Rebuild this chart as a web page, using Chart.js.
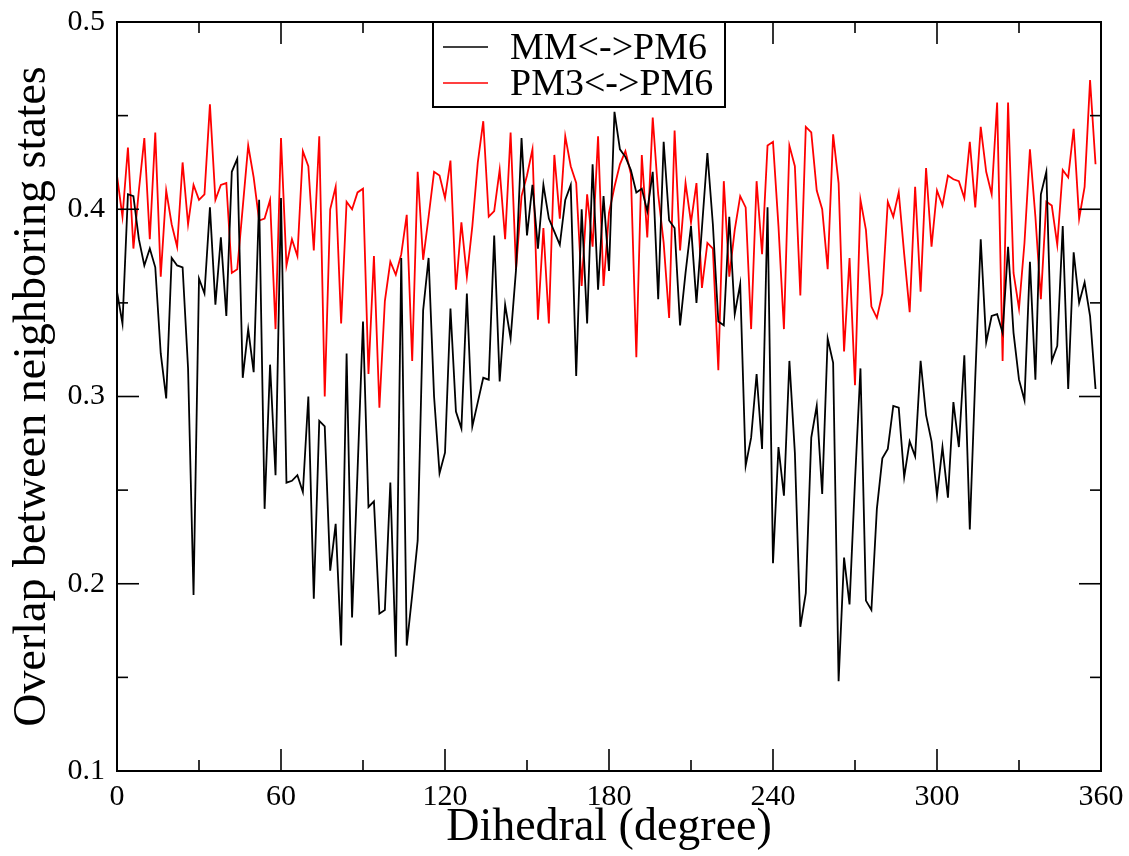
<!DOCTYPE html>
<html>
<head>
<meta charset="utf-8">
<title>Overlap between neighboring states</title>
<script src="https://cdn.jsdelivr.net/npm/chart.js@4.4.1/dist/chart.umd.min.js"></script>
<style>
  html, body { margin: 0; padding: 0; background: #fff; }
  canvas { display: block; }
</style>
</head>
<body>
<canvas id="overlapChart" width="1129" height="856"></canvas>
<script>
"use strict";

// dihedral angle (degree), one sample every 2 degrees
var dihedral = [
    0, 2, 4, 6, 8, 10, 12, 14, 16, 18, 20, 22, 24, 26, 28, 30, 32, 34, 36, 38,
    40, 42, 44, 46, 48, 50, 52, 54, 56, 58, 60, 62, 64, 66, 68, 70, 72, 74, 76, 78,
    80, 82, 84, 86, 88, 90, 92, 94, 96, 98, 100, 102, 104, 106, 108, 110, 112, 114, 116, 118,
    120, 122, 124, 126, 128, 130, 132, 134, 136, 138, 140, 142, 144, 146, 148, 150, 152, 154, 156, 158,
    160, 162, 164, 166, 168, 170, 172, 174, 176, 178, 180, 182, 184, 186, 188, 190, 192, 194, 196, 198,
    200, 202, 204, 206, 208, 210, 212, 214, 216, 218, 220, 222, 224, 226, 228, 230, 232, 234, 236, 238,
    240, 242, 244, 246, 248, 250, 252, 254, 256, 258, 260, 262, 264, 266, 268, 270, 272, 274, 276, 278,
    280, 282, 284, 286, 288, 290, 292, 294, 296, 298, 300, 302, 304, 306, 308, 310, 312, 314, 316, 318,
    320, 322, 324, 326, 328, 330, 332, 334, 336, 338, 340, 342, 344, 346, 348, 350, 352, 354, 356, 358
];

var mmPm6 = [
    0.356, 0.339, 0.408, 0.407, 0.384, 0.370, 0.379, 0.369, 0.323, 0.299,
    0.374, 0.370, 0.369, 0.315, 0.194, 0.363, 0.355, 0.401, 0.349, 0.385,
    0.343, 0.420, 0.427, 0.310, 0.336, 0.313, 0.405, 0.240, 0.317, 0.258,
    0.406, 0.254, 0.255, 0.258, 0.249, 0.300, 0.192, 0.287, 0.284, 0.207,
    0.232, 0.167, 0.323, 0.182, 0.260, 0.340, 0.241, 0.244, 0.184, 0.186,
    0.254, 0.161, 0.374, 0.167, 0.194, 0.223, 0.346, 0.374, 0.300, 0.259,
    0.270, 0.347, 0.292, 0.283, 0.355, 0.284, 0.297, 0.310, 0.309, 0.386,
    0.308, 0.349, 0.331, 0.368, 0.438, 0.386, 0.413, 0.379, 0.413, 0.395,
    0.388, 0.381, 0.405, 0.413, 0.311, 0.400, 0.339, 0.424, 0.357, 0.407,
    0.367, 0.452, 0.432, 0.428, 0.421, 0.409, 0.411, 0.399, 0.420, 0.352,
    0.436, 0.394, 0.390, 0.338, 0.366, 0.391, 0.350, 0.390, 0.430, 0.392,
    0.340, 0.338, 0.396, 0.344, 0.360, 0.263, 0.278, 0.312, 0.272, 0.401,
    0.211, 0.273, 0.247, 0.319, 0.270, 0.177, 0.195, 0.278, 0.295, 0.248,
    0.331, 0.318, 0.148, 0.214, 0.189, 0.255, 0.315, 0.191, 0.186, 0.240,
    0.267, 0.272, 0.295, 0.294, 0.257, 0.276, 0.268, 0.319, 0.290, 0.276,
    0.247, 0.273, 0.246, 0.297, 0.273, 0.322, 0.229, 0.310, 0.384, 0.329,
    0.343, 0.344, 0.334, 0.380, 0.334, 0.309, 0.298, 0.372, 0.309, 0.408,
    0.420, 0.319, 0.327, 0.391, 0.304, 0.377, 0.350, 0.361, 0.343, 0.304
];

var pm3Pm6 = [
    0.418, 0.396, 0.433, 0.379, 0.410, 0.438, 0.384, 0.441, 0.364, 0.410,
    0.392, 0.380, 0.425, 0.392, 0.413, 0.405, 0.408, 0.456, 0.405, 0.413,
    0.414, 0.366, 0.368, 0.401, 0.434, 0.417, 0.394, 0.395, 0.405, 0.336,
    0.438, 0.370, 0.384, 0.375, 0.431, 0.423, 0.378, 0.439, 0.300, 0.400,
    0.412, 0.339, 0.404, 0.400, 0.409, 0.411, 0.312, 0.375, 0.294, 0.351,
    0.372, 0.365, 0.376, 0.397, 0.319, 0.420, 0.373, 0.396, 0.420, 0.418,
    0.406, 0.426, 0.357, 0.393, 0.364, 0.391, 0.425, 0.447, 0.396, 0.399,
    0.421, 0.384, 0.441, 0.368, 0.407, 0.418, 0.432, 0.341, 0.390, 0.339,
    0.429, 0.395, 0.439, 0.423, 0.414, 0.359, 0.408, 0.380, 0.439, 0.359,
    0.398, 0.412, 0.424, 0.431, 0.419, 0.321, 0.429, 0.385, 0.449, 0.408,
    0.382, 0.342, 0.442, 0.378, 0.414, 0.393, 0.414, 0.358, 0.382, 0.379,
    0.314, 0.415, 0.364, 0.389, 0.407, 0.401, 0.336, 0.415, 0.376, 0.434,
    0.436, 0.391, 0.336, 0.434, 0.423, 0.354, 0.444, 0.441, 0.410, 0.400,
    0.368, 0.440, 0.414, 0.324, 0.374, 0.306, 0.405, 0.389, 0.348, 0.342,
    0.355, 0.404, 0.396, 0.409, 0.376, 0.345, 0.412, 0.356, 0.422, 0.380,
    0.410, 0.402, 0.418, 0.416, 0.415, 0.406, 0.436, 0.401, 0.444, 0.420,
    0.408, 0.457, 0.319, 0.457, 0.366, 0.347, 0.382, 0.432, 0.396, 0.352,
    0.404, 0.402, 0.381, 0.421, 0.417, 0.443, 0.395, 0.412, 0.469, 0.424
];

var xMajorTicks = [0, 60, 120, 180, 240, 300, 360];
var xMinorTicks = [30, 90, 150, 210, 270, 330];
var yMajorTicks = [0.1, 0.2, 0.3, 0.4, 0.5];
var yMinorTicks = [0.15, 0.25, 0.35, 0.45];

var serif = "'Liberation Serif', 'DejaVu Serif', serif";

function toPoints(xs, ys) {
    return xs.map(function (x, i) { return { x: x, y: ys[i] }; });
}

// keep the plot box where the layout padding puts it
function fixBox(size) {
    return function (scale) {
        if (scale.isHorizontal()) scale.height = size; else scale.width = size;
        scale.paddingLeft = 0;
        scale.paddingRight = 0;
        scale.paddingTop = 0;
        scale.paddingBottom = 0;
    };
}

// xmgrace style: closed frame, ticks pointing inwards on all four sides
var frameTicks = {
    id: 'frameTicks',
    afterDatasetsDraw: function (chart) {
        var ctx = chart.ctx, a = chart.chartArea;
        var xs = chart.scales.x, ys = chart.scales.y;
        ctx.save();
        ctx.strokeStyle = '#000';
        ctx.lineWidth = 1.6;
        function tick(x1, y1, x2, y2) {
            ctx.beginPath();
            ctx.moveTo(x1, y1);
            ctx.lineTo(x2, y2);
            ctx.stroke();
        }
        xMajorTicks.forEach(function (v) {
            var px = xs.getPixelForValue(v);
            tick(px, a.bottom, px, a.bottom - 22);
            tick(px, a.top, px, a.top + 22);
        });
        xMinorTicks.forEach(function (v) {
            var px = xs.getPixelForValue(v);
            tick(px, a.bottom, px, a.bottom - 11);
            tick(px, a.top, px, a.top + 11);
        });
        yMajorTicks.forEach(function (v) {
            var py = ys.getPixelForValue(v);
            tick(a.left, py, a.left + 22, py);
            tick(a.right, py, a.right - 22, py);
        });
        yMinorTicks.forEach(function (v) {
            var py = ys.getPixelForValue(v);
            tick(a.left, py, a.left + 11, py);
            tick(a.right, py, a.right - 11, py);
        });
        ctx.lineWidth = 2;
        ctx.strokeRect(a.left, a.top, a.right - a.left, a.bottom - a.top);
        ctx.restore();
    },
    afterDraw: function (chart) {
        // legend box hanging from the top frame
        var ctx = chart.ctx;
        var box = { left: 433, top: chart.chartArea.top, width: 292, height: 85 };
        ctx.save();
        ctx.fillStyle = '#fff';
        ctx.fillRect(box.left, box.top, box.width, box.height);
        ctx.strokeStyle = '#000';
        ctx.lineWidth = 2;
        ctx.strokeRect(box.left, box.top, box.width, box.height);
        ctx.font = '38px ' + serif;
        ctx.textBaseline = 'middle';
        chart.data.datasets.forEach(function (ds, i) {
            var cy = box.top + 25 + i * 36;
            ctx.strokeStyle = ds.borderColor;
            ctx.lineWidth = 1.5;
            ctx.beginPath();
            ctx.moveTo(443, cy);
            ctx.lineTo(488, cy);
            ctx.stroke();
            ctx.fillStyle = '#000';
            ctx.fillText(ds.label, 510, cy + 2);
        });
        ctx.restore();
    }
};

var ctx = document.getElementById("overlapChart");
var myChart = new Chart(ctx, {
    type: 'line',
    data: {
        datasets: [
            {
                label: "MM<->PM6",
                data: toPoints(dihedral, mmPm6),
                borderColor: "#000000",
                borderWidth: 1.8,
                pointRadius: 0,
                tension: 0
            },
            {
                label: "PM3<->PM6",
                data: toPoints(dihedral, pm3Pm6),
                borderColor: "#ff0000",
                borderWidth: 1.8,
                pointRadius: 0,
                tension: 0
            }
        ]
    },
    options: {
        responsive: false,
        animation: false,
        devicePixelRatio: 1,
        layout: {
            padding: { top: 22, right: 28, left: 0, bottom: 0 }
        },
        plugins: {
            legend: { display: false },
            tooltip: { enabled: false }
        },
        scales: {
            x: {
                type: 'linear',
                min: 0,
                max: 360,
                grid: { display: false, drawTicks: false },
                border: { display: false },
                ticks: {
                    stepSize: 60,
                    maxRotation: 0,
                    padding: 8,
                    color: '#000',
                    font: { family: serif, size: 30 }
                },
                title: {
                    display: true,
                    text: 'Dihedral (degree)',
                    color: '#000',
                    padding: { top: 0, bottom: 0 },
                    font: { family: serif, size: 46 }
                },
                afterFit: fixBox(85)
            },
            y: {
                min: 0.1,
                max: 0.5,
                grid: { display: false, drawTicks: false },
                border: { display: false },
                ticks: {
                    stepSize: 0.1,
                    padding: 12,
                    color: '#000',
                    font: { family: serif, size: 30 },
                    callback: function (v) { return v.toFixed(1); }
                },
                title: {
                    display: true,
                    text: 'Overlap between neighboring states',
                    color: '#000',
                    padding: { top: 5, bottom: 0 },
                    font: { family: serif, size: 46 }
                },
                afterFit: fixBox(117)
            }
        }
    },
    plugins: [frameTicks]
});
</script>
</body>
</html>
